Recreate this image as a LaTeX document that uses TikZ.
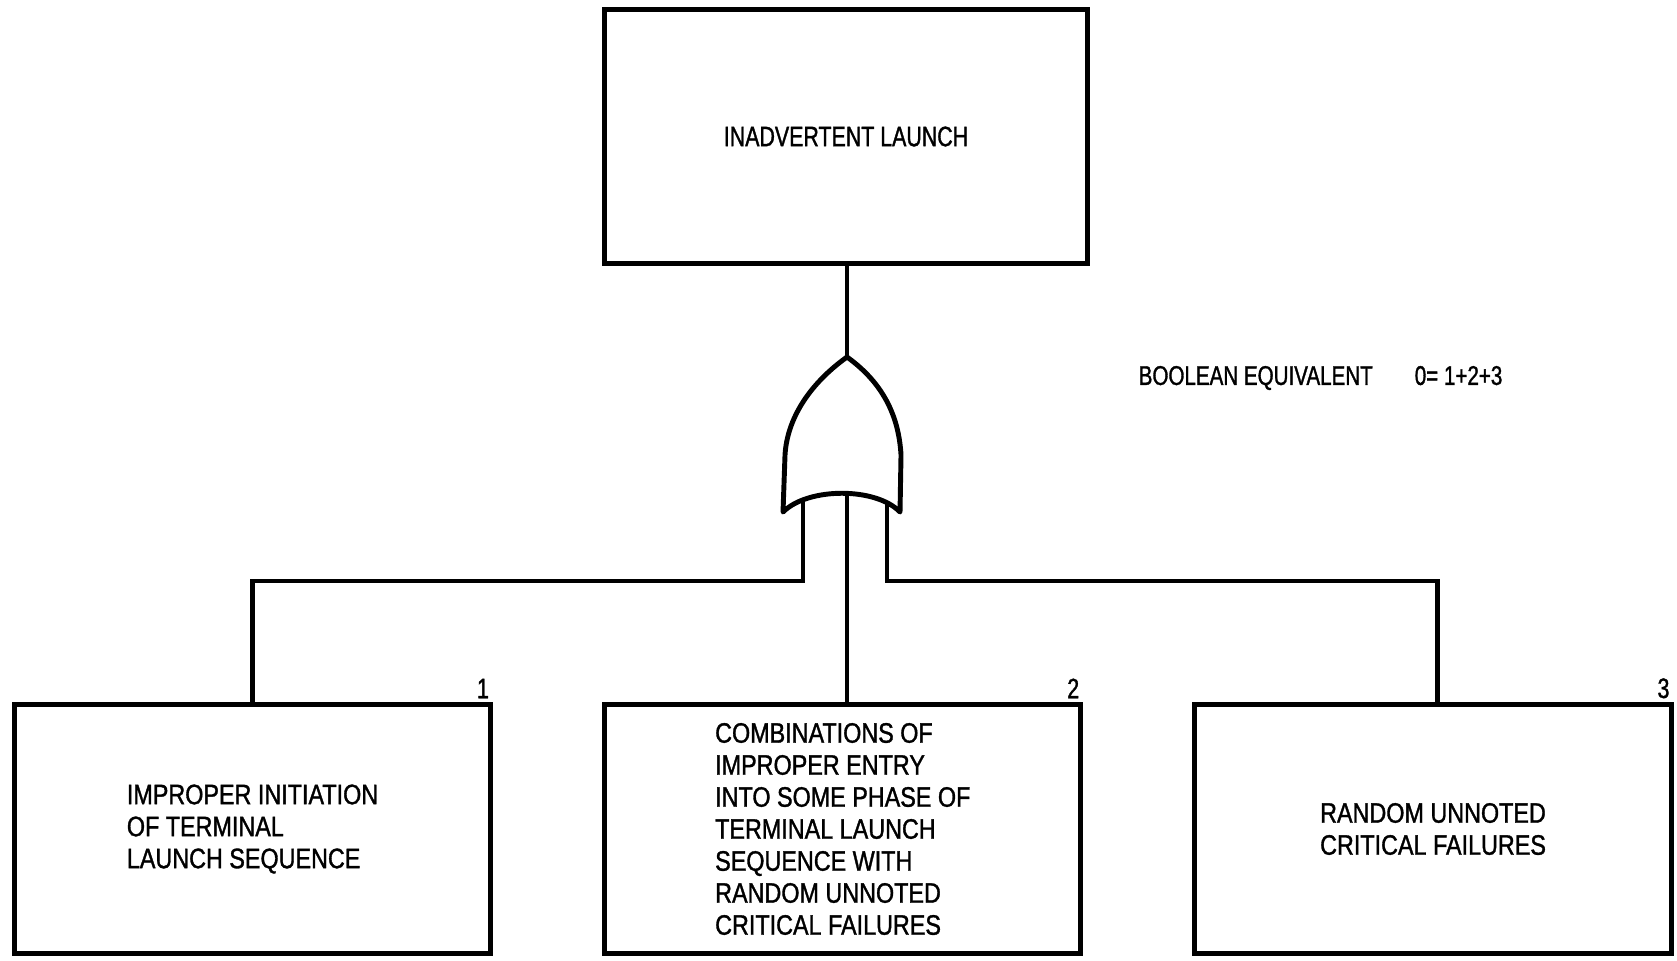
\documentclass[tikz,border=0pt]{standalone}
\usepackage{fontspec}
\setmainfont[FakeStretch=0.76,FakeBold=1.2]{Liberation Sans}
\newfontfamily\boxfont[FakeStretch=0.83,FakeBold=1.2]{Liberation Sans}
\usetikzlibrary{positioning}

\begin{document}
\begin{tikzpicture}[x=0.01cm,y=-0.01cm,
  event/.style={draw,line width=1.4pt,minimum width=4.76cm,minimum height=2.48cm,
    align=left,inner sep=0pt,font=\boxfont\fontsize{8}{9.1}\selectfont},
  wire/.style={line width=1.4pt},
  num/.style={inner sep=1pt,font=\fontsize{8}{9}\selectfont}]
\useasboundingbox (0,0) rectangle (1677,960);

\node[name=top_event, event, minimum width=4.82cm, minimum height=2.53cm,
  font=\fontsize{8}{9.1}\selectfont] at (846,136.5) {INADVERTENT LAUNCH};
\node[name=event_1, event] at (252.5,829) {IMPROPER INITIATION\\OF TERMINAL\\LAUNCH SEQUENCE};
\node[name=event_2, event, right=1.09cm of event_1] {COMBINATIONS OF\\IMPROPER ENTRY\\INTO SOME PHASE OF\\TERMINAL LAUNCH\\SEQUENCE WITH\\RANDOM UNNOTED\\CRITICAL FAILURES};
\node[name=event_3, event, right=1.09cm of event_2] {RANDOM UNNOTED\\CRITICAL FAILURES};
\node[name=num_1, num, anchor=south east] at (event_1.north east) {1};
\node[name=num_2, num, anchor=south east] at (event_2.north east) {2};
\node[name=num_3, num, anchor=south east] at (event_3.north east) {3};
\node[name=boolean, anchor=west, inner sep=0pt, font=\fontsize{7.7}{9}\selectfont] at (1138,378) {BOOLEAN EQUIVALENT\hspace{0.42cm}0= 1+2+3};

% or gate
\coordinate (gate_out) at (847,357);
\coordinate (gate_in_1) at (803,500);
\coordinate (gate_in_2) at (847,493);
\coordinate (gate_in_3) at (887,502);
\draw[wire, line join=round] (gate_out) .. controls (808,385) and (787,420) .. (785,455) -- (783,512)
  .. controls (808,487) and (876,487) .. (900,512) -- (901,455)
  .. controls (899,420) and (886,385) .. (gate_out) -- cycle;

\coordinate (bus_left) at (803,581);
\coordinate (bus_right) at (887,581);
\draw[wire] (top_event.south -| gate_out) -- (gate_out);
\draw[wire] (gate_in_2) -- (gate_in_2 |- event_2.north);
\draw[wire] (gate_in_1) -- (bus_left) -| (event_1.north);
\draw[wire] (gate_in_3) -- (bus_right) -| ([xshift=1.3pt]event_3.north);

\end{tikzpicture}
\end{document}
